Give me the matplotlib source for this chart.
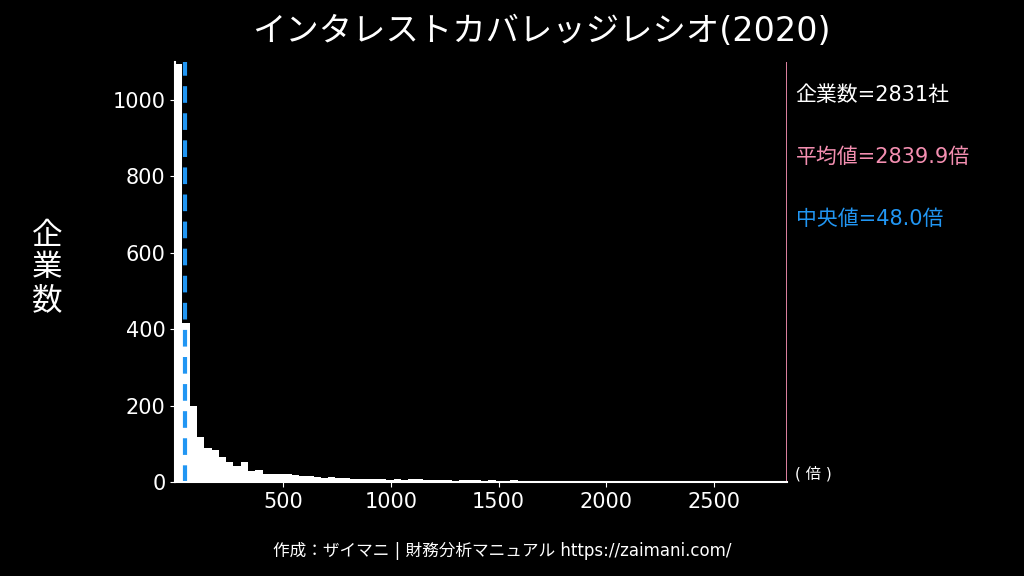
import matplotlib
matplotlib.use("Agg")
import matplotlib.pyplot as plt
import numpy as np

plt.rcParams['font.family'] = ['DejaVu Sans', 'Noto Sans CJK JP']

bin_width = 33.8
counts = [1095, 415, 200, 117, 88, 83, 65, 52, 42, 52, 29, 31,
          20, 20, 20, 22, 18, 16, 15, 14, 12, 13, 10, 10, 9, 8, 9, 7,
          8, 6, 7, 6, 8, 7, 6, 5, 6, 5, 4, 5, 6, 5, 4, 5, 3, 4, 5, 4,
          3, 4, 3, 3, 4, 3, 3, 2, 3, 3, 2, 3, 2, 2, 3, 2, 2, 2, 3, 2,
          2, 1, 2, 2, 1, 2, 1, 2, 1, 1, 2, 1, 1, 1, 1, 1]
mean_v = 2839.9
median_v = 48.0
n_companies = 2831

fig = plt.figure(figsize=(10.24, 5.76), dpi=100, facecolor='black')
ax = fig.add_axes([0.171, 0.163, 0.598, 0.73], facecolor='black')
edges = np.arange(len(counts)) * bin_width
ax.bar(edges, counts, width=bin_width, align='edge', color='white', edgecolor='white', linewidth=0)
ax.axvline(median_v, color='#2196f3', linestyle=(0, (4, 2.5)), linewidth=3)
ax.axvline(mean_v, color='#f48fb1', linewidth=2)
ax.set_xlim(0, 2840)
ax.set_ylim(0, 1100)
ax.set_xticks([500, 1000, 1500, 2000, 2500])
ax.set_yticks([0, 200, 400, 600, 800, 1000])
for s in ['top', 'right']:
    ax.spines[s].set_visible(False)
for s in ['left', 'bottom']:
    ax.spines[s].set_color('white')
    ax.spines[s].set_linewidth(1.5)
ax.tick_params(colors='white', labelsize=15)
fig.text(0.046, 0.535, '企\n業\n数', color='white', fontsize=22, ha='center', va='center', linespacing=1.15)

fig.text(0.529, 0.945, 'インタレストカバレッジレシオ(2020)', color='white', fontsize=24, ha='center', va='center')
fig.text(0.777, 0.835, f'企業数={n_companies}社', color='white', fontsize=15, va='center')
fig.text(0.777, 0.727, f'平均値={mean_v:.1f}倍', color='#f48fb1', fontsize=15, va='center')
fig.text(0.777, 0.620, f'中央値={median_v:.1f}倍', color='#2196f3', fontsize=15, va='center')
fig.text(0.776, 0.178, '( 倍 )', color='white', fontsize=11, va='center')
fig.text(0.49, 0.043, '作成：ザイマニ | 財務分析マニュアル https://zaimani.com/', color='white', fontsize=12, ha='center', va='center')

fig.savefig('out.png', dpi=100, facecolor='black')
